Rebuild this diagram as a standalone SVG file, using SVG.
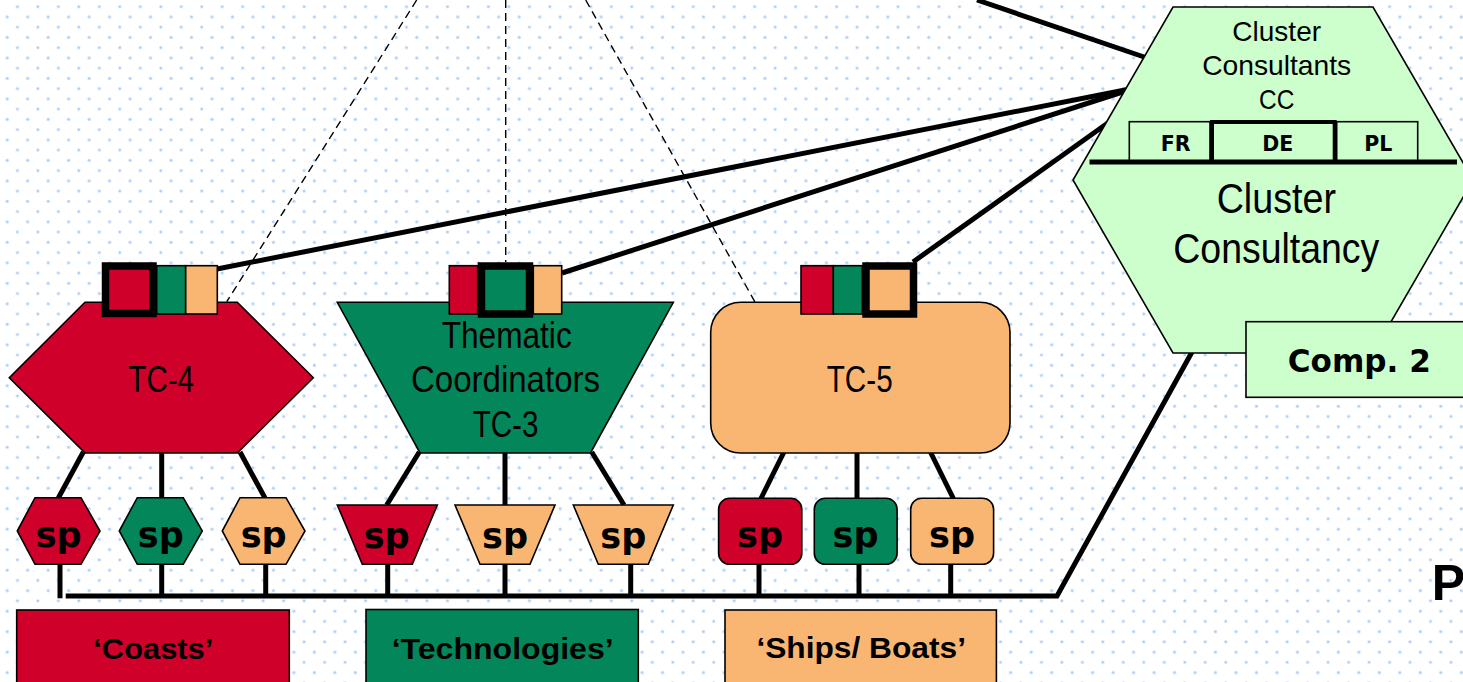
<svg xmlns="http://www.w3.org/2000/svg" width="1463" height="682" viewBox="0 0 1463 682">
<defs>
<pattern id="dots" patternUnits="userSpaceOnUse" x="0" y="0" width="20.48" height="20.49">
<circle cx="17.4" cy="6.7" r="1.9" fill="#dbeafc"/>
<circle cx="17.4" cy="6.7" r="1.1" fill="#9fcaf5"/>
<circle cx="7.2" cy="17.0" r="1.9" fill="#dbeafc"/>
<circle cx="7.2" cy="17.0" r="1.1" fill="#9fcaf5"/>
</pattern>
<style>
.sh{stroke:#000;stroke-width:1.6;stroke-linejoin:miter}
.thick{stroke:#000;stroke-width:7.5}
.line{fill:none;stroke:#000;stroke-width:5}
.dash{fill:none;stroke:#000;stroke-width:1.4;stroke-dasharray:8 5}
.red{fill:#cf0029}
.grn{fill:#03875a}
.org{fill:#f9b673}
.lg{fill:#ccffcc}
.r{font-family:"Liberation Sans",Arial,sans-serif;text-anchor:middle;fill:#000}
.b{font-family:"DejaVu Sans",Verdana,sans-serif;font-weight:bold;text-anchor:middle;fill:#000}
.lb{font-family:"Liberation Sans",Arial,sans-serif;font-weight:bold;text-anchor:middle;fill:#000}
</style>
</defs>
<rect x="0" y="0" width="1463" height="682" fill="#ffffff"/>
<rect x="0" y="0" width="1463" height="682" fill="url(#dots)"/>

<g id="connectors">
<line class="dash" x1="416.7" y1="0" x2="226.7" y2="301.7"/>
<line class="dash" x1="505.7" y1="0" x2="505.7" y2="262"/>
<line class="dash" x1="585.7" y1="0" x2="755" y2="302"/>
<line class="line" x1="977" y1="0" x2="1150" y2="59"/>
<line class="line" x1="217" y1="269" x2="1135" y2="88"/>
<line class="line" x1="562" y1="273" x2="1135" y2="88"/>
<line class="line" x1="913" y1="262" x2="1112" y2="120"/>
<polyline class="line" points="65.7,596 1057,596 1192,352"/>
<line class="line" x1="83.3" y1="452" x2="58.3" y2="498"/>
<line class="line" x1="161.7" y1="452" x2="161.7" y2="498"/>
<line class="line" x1="240" y1="452" x2="265" y2="498"/>
<line class="line" x1="419.3" y1="452" x2="386.7" y2="505"/>
<line class="line" x1="505" y1="452" x2="505" y2="505"/>
<line class="line" x1="591.7" y1="452" x2="624" y2="505"/>
<line class="line" x1="784" y1="452" x2="760.7" y2="499"/>
<line class="line" x1="857" y1="452" x2="857" y2="499"/>
<line class="line" x1="930.4" y1="452" x2="953.6" y2="499"/>
<line class="line" x1="60" y1="564" x2="60" y2="598.3"/>
<line class="line" x1="161.7" y1="564" x2="161.7" y2="596"/>
<line class="line" x1="265.7" y1="564" x2="265.7" y2="596"/>
<line class="line" x1="387.7" y1="564" x2="387.7" y2="596"/>
<line class="line" x1="505" y1="564" x2="505" y2="596"/>
<line class="line" x1="630.7" y1="564" x2="630.7" y2="596"/>
<line class="line" x1="759" y1="564" x2="759" y2="596"/>
<line class="line" x1="859" y1="564" x2="859" y2="596"/>
<line class="line" x1="950.7" y1="564" x2="950.7" y2="596"/>
</g>

<g id="cluster">
<polygon class="lg sh" points="1173,7 1373,7 1473,180 1373,353 1173,353 1073,180"/>
<text class="r" x="1276.7" y="40.7" font-size="28.5" textLength="88.7" lengthAdjust="spacingAndGlyphs">Cluster</text>
<text class="r" x="1276.7" y="75" font-size="28.5" textLength="149" lengthAdjust="spacingAndGlyphs">Consultants</text>
<text class="r" x="1276.7" y="109.3" font-size="28.5" textLength="35.3" lengthAdjust="spacingAndGlyphs">CC</text>
<rect class="lg sh" x="1129.3" y="121.7" width="80.7" height="40.3"/>
<rect class="lg sh" x="1336.7" y="121.7" width="81" height="40.3"/>
<rect class="lg" x="1212" y="122" width="122.7" height="40" stroke="#000" stroke-width="4"/>
<line x1="1089.5" y1="162" x2="1457" y2="162" stroke="#000" stroke-width="5"/>
<text class="b" x="1175.7" y="150.7" font-size="20.5">FR</text>
<text class="b" x="1277.8" y="150.7" font-size="20.5">DE</text>
<text class="b" x="1378.2" y="150.7" font-size="20.5">PL</text>
<text class="r" x="1276.3" y="213.3" font-size="42" textLength="119.3" lengthAdjust="spacingAndGlyphs">Cluster</text>
<text class="r" x="1276.3" y="263.3" font-size="42" textLength="206" lengthAdjust="spacingAndGlyphs">Consultancy</text>
</g>

<g id="comp2">
<rect class="lg sh" x="1246" y="321.7" width="227" height="75.6"/>
<text class="b" x="1359.3" y="371.7" font-size="32" textLength="143" lengthAdjust="spacingAndGlyphs">Comp. 2</text>
</g>

<g id="tc4">
<polygon class="red sh" points="85,302.3 237.3,302.3 313.3,377.7 237.3,453 85,453 9.3,377.7"/>
<rect class="grn sh" x="156.7" y="265.7" width="29" height="48.3"/>
<rect class="org sh" x="185.7" y="265.7" width="31.6" height="48.3"/>
<rect class="red thick" x="105.5" y="266" width="47.5" height="47.5"/>
<text class="r" x="161.2" y="391.7" font-size="37" textLength="65.7" lengthAdjust="spacingAndGlyphs">TC-4</text>
</g>

<g id="tc3">
<polygon class="grn sh" points="337.3,302.3 673.3,302.3 590.5,453 420,453"/>
<rect class="red sh" x="449.3" y="265.7" width="28.4" height="48.3"/>
<rect class="org sh" x="533.3" y="265.7" width="28.4" height="48.3"/>
<rect class="grn thick" x="481.5" y="266" width="48" height="48"/>
<text class="r" x="506.7" y="348.3" font-size="37" textLength="130" lengthAdjust="spacingAndGlyphs">Thematic</text>
<text class="r" x="505.5" y="391.7" font-size="37" textLength="189" lengthAdjust="spacingAndGlyphs">Coordinators</text>
<text class="r" x="505.5" y="436.7" font-size="37" textLength="65.7" lengthAdjust="spacingAndGlyphs">TC-3</text>
</g>

<g id="tc5">
<rect class="org sh" x="710.7" y="302.3" width="299.3" height="150.7" rx="30" ry="30"/>
<rect class="red sh" x="801" y="265.7" width="32.3" height="48.3"/>
<rect class="grn sh" x="833.3" y="265.7" width="29" height="48.3"/>
<rect class="org thick" x="866" y="266" width="47.5" height="48"/>
<text class="r" x="859.7" y="391.7" font-size="37" textLength="66" lengthAdjust="spacingAndGlyphs">TC-5</text>
</g>

<g id="sp1">
<polygon class="red sh" points="17.3,531 35,497.7 81,497.7 100,531 81,564.3 35,564.3"/>
<text class="b" x="58.7" y="546.5" font-size="36" textLength="46" lengthAdjust="spacingAndGlyphs">sp</text>
</g>
<g id="sp2">
<polygon class="grn sh" points="119.3,531 137.3,497.7 183.3,497.7 202.3,531 183.3,564.3 137.3,564.3"/>
<text class="b" x="160.8" y="546.5" font-size="36" textLength="46" lengthAdjust="spacingAndGlyphs">sp</text>
</g>
<g id="sp3">
<polygon class="org sh" points="222.3,531 240,497.7 286,497.7 305,531 286,564.3 240,564.3"/>
<text class="b" x="263.7" y="546.5" font-size="36" textLength="46" lengthAdjust="spacingAndGlyphs">sp</text>
</g>
<g id="sp4">
<polygon class="red sh" points="337.3,505 437.3,505 412.3,564.3 362.3,564.3"/>
<text class="b" x="386.7" y="548.3" font-size="36" textLength="46" lengthAdjust="spacingAndGlyphs">sp</text>
</g>
<g id="sp5">
<polygon class="org sh" points="455,505 555,505 530,564.3 480,564.3"/>
<text class="b" x="505" y="548.3" font-size="36" textLength="46" lengthAdjust="spacingAndGlyphs">sp</text>
</g>
<g id="sp6">
<polygon class="org sh" points="573.3,505 673.3,505 648.3,564.3 598.3,564.3"/>
<text class="b" x="623.3" y="548.3" font-size="36" textLength="46" lengthAdjust="spacingAndGlyphs">sp</text>
</g>
<g id="sp7">
<rect class="red sh" x="718.6" y="498.3" width="83.2" height="66" rx="11" ry="11"/>
<text class="b" x="760" y="546.7" font-size="36" textLength="46" lengthAdjust="spacingAndGlyphs">sp</text>
</g>
<g id="sp8">
<rect class="grn sh" x="814.3" y="498.3" width="82.8" height="66" rx="11" ry="11"/>
<text class="b" x="855.6" y="546.7" font-size="36" textLength="46" lengthAdjust="spacingAndGlyphs">sp</text>
</g>
<g id="sp9">
<rect class="org sh" x="910.7" y="498.3" width="82.9" height="66" rx="11" ry="11"/>
<text class="b" x="952" y="546.7" font-size="36" textLength="46" lengthAdjust="spacingAndGlyphs">sp</text>
</g>

<g id="coasts">
<rect class="red sh" x="16.7" y="610" width="272.6" height="80"/>
<text class="lb" x="153.3" y="659.3" font-size="30" textLength="120" lengthAdjust="spacingAndGlyphs">‘Coasts’</text>
</g>
<g id="technologies">
<rect class="grn sh" x="366" y="609.5" width="272.3" height="80"/>
<text class="lb" x="502.7" y="659.3" font-size="30" textLength="222" lengthAdjust="spacingAndGlyphs">‘Technologies’</text>
</g>
<g id="ships">
<rect class="org sh" x="725" y="610" width="271.4" height="80"/>
<text class="lb" x="861.2" y="658.3" font-size="30" textLength="209.6" lengthAdjust="spacingAndGlyphs">‘Ships/ Boats’</text>
</g>

<text class="lb" x="1431.7" y="600" font-size="50" style="text-anchor:start">P</text>
</svg>
